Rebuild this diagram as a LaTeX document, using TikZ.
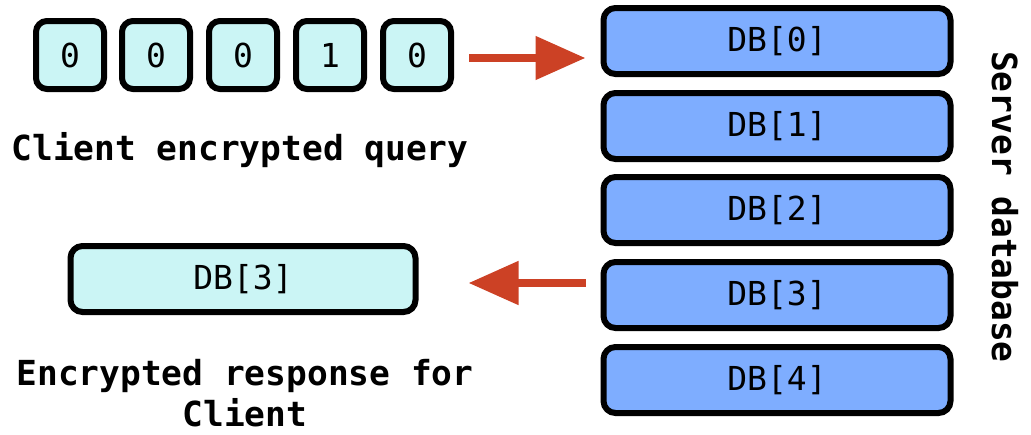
\documentclass[tikz,border=0pt]{standalone}
\usepackage{fontspec}
\setmonofont{DejaVu Sans Mono}
\usetikzlibrary{arrows.meta,calc}
\definecolor{qfill}{HTML}{CBF5F5}
\definecolor{dbfill}{HTML}{7EADFF}
\definecolor{arr}{HTML}{CC4125}
\begin{document}
\begin{tikzpicture}[x=1pt,y=-1pt,
  bit/.style={draw=black,line width=6pt,fill=qfill,rounded corners=11pt,minimum width=68pt,minimum height=68pt,inner sep=0pt,font=\ttfamily\fontsize{33}{33}\selectfont},
  dbrow/.style={draw=black,line width=6pt,fill=dbfill,rounded corners=12pt,minimum width=347pt,minimum height=66pt,inner sep=0pt,font=\ttfamily\fontsize{33}{33}\selectfont},
  resp/.style={draw=black,line width=6pt,fill=qfill,rounded corners=12pt,minimum width=345pt,minimum height=66pt,inner sep=0pt,font=\ttfamily\fontsize{33}{33}\selectfont},
  lbl/.style={font=\ttfamily\bfseries\fontsize{34.5}{41}\selectfont,align=center,inner sep=0pt},
  flow/.style={draw=arr,line width=8pt,-{Triangle[length=50pt,width=42pt]}}]
\useasboundingbox (0,0) rectangle (1031,434);
\node[bit] (q0) at (70,55) {0};
\node[bit] (q1) at (156,55) {0};
\node[bit] (q2) at (243,55) {0};
\node[bit] (q3) at (330,55) {1};
\node[bit] (q4) at (417,55) {0};
\node[lbl] (ql) at (240,150) {Client encrypted query};
\node[dbrow] (d0) at (777,41) {DB[0]};
\node[dbrow] (d1) at (777,126) {DB[1]};
\node[dbrow] (d2) at (777,210) {DB[2]};
\node[dbrow] (d3) at (777,295) {DB[3]};
\node[dbrow] (d4) at (777,380) {DB[4]};
\node[resp] (r) at (243,279) {DB[3]};
\node[lbl] (rl) at (245,393) {Encrypted response for\\Client};
\node[lbl,rotate=-90] (sl) at (1005,207) {Server database};
\coordinate (a1s) at ($(q4.east)+(15,3)$);
\coordinate (a1e) at (a1s -| d0.west);
\coordinate (a2e) at ($(r.east)+(50,4)$);
\coordinate (a2s) at (a2e -| d3.west);
\draw[flow,shorten >=15pt] (a1s) -- (a1e);
\draw[flow,shorten <=15pt] (a2s) -- (a2e);
\end{tikzpicture}
\end{document}
